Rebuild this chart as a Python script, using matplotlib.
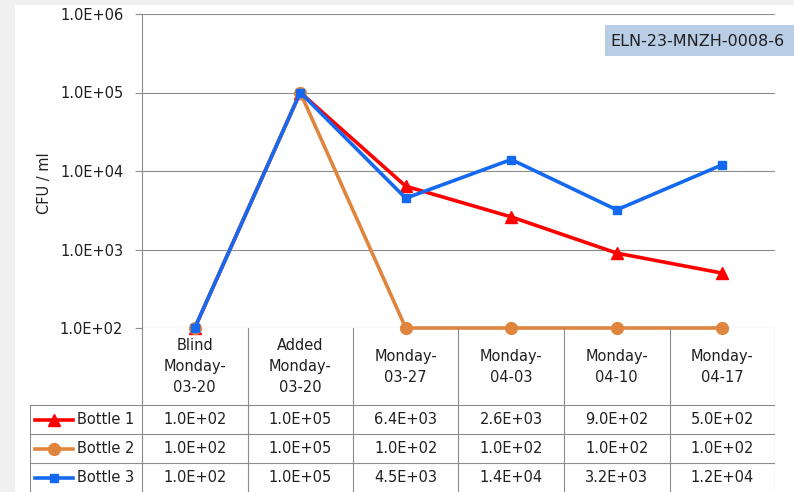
import numpy as np
import matplotlib.pyplot as plt
from matplotlib.patches import Rectangle
from matplotlib.lines import Line2D

# Data
categories = ["Blind\nMonday-\n03-20", "Added\nMonday-\n03-20", "Monday-\n03-27",
              "Monday-\n04-03", "Monday-\n04-10", "Monday-\n04-17"]
series_names = ["Bottle 1", "Bottle 2", "Bottle 3"]
bottle1 = [1.0e2, 1.0e5, 6.4e3, 2.6e3, 9.0e2, 5.0e2]
bottle2 = [1.0e2, 1.0e5, 1.0e2, 1.0e2, 1.0e2, 1.0e2]
bottle3 = [1.0e2, 1.0e5, 4.5e3, 1.4e4, 3.2e3, 1.2e4]
y_ticks = [1e2, 1e3, 1e4, 1e5, 1e6]
title_text = "ELN-23-MNZH-0008-6"

colors = ["#ff0000", "#e0853d", "#1469f0"]
markers = ["^", "o", "s"]
msizes = [8, 8.5, 6]

plt.rcParams['font.family'] = ['DejaVu Sans']
FS = 10.5
TXT = "#202020"
W, H = 794, 492
fig = plt.figure(figsize=(W / 100, H / 100), dpi=100, facecolor="#f0f0f0")
fig.patches.append(Rectangle((15 / W, 0), 1, (H - 5) / H, transform=fig.transFigure,
                             facecolor="white", edgecolor="none", zorder=-10))

grid_c = "#8c8c8c"
x0, x1, ytop, ybot = 142, 775, 14, 328
ax = fig.add_axes([x0 / W, (H - ybot) / H, (x1 - x0) / W, (ybot - ytop) / H])
ax.set_facecolor("none")
x = np.arange(len(categories))
ax.set_yscale("log")
ax.set_ylim(1e2, 1e6)
ax.set_xlim(-0.5, len(categories) - 0.5)
ax.set_yticks(y_ticks)
ax.set_yticklabels([f"{v:.1E}" for v in y_ticks], fontsize=FS, color=TXT)
ax.minorticks_off()
ax.set_xticks([])
ax.tick_params(axis="y", length=5, color=grid_c, width=0.8, pad=8.5)
for s in ["top", "right", "bottom"]:
    ax.spines[s].set_visible(False)
ax.spines["left"].set_color(grid_c)
ax.spines["left"].set_linewidth(0.8)
ax.grid(axis="y", color=grid_c, linewidth=0.8)
ax.set_axisbelow(True)
ax.set_ylabel("CFU / ml", fontsize=FS, color=TXT)
ax.yaxis.set_label_coords((52 - x0) / (x1 - x0), (ybot - 183) / (ybot - ytop))

all_series = [bottle1, bottle2, bottle3]
for vals, c, m, ms, name in zip(all_series, colors, markers, msizes, series_names):
    ax.plot(x, vals, color=c, marker=m, markersize=ms, linewidth=2.6,
            markeredgecolor=c, clip_on=False, label=name, zorder=3)

# Title box at the top right
fig.patches.append(Rectangle((605 / W, 1 - 56 / H), (W - 605) / W, 31 / H,
                             transform=fig.transFigure, facecolor="#b9cde5",
                             edgecolor="none", zorder=1))
fig.text(610 / W, 1 - 41 / H, title_text, fontsize=11.5, color=TXT,
         va="center", ha="left", zorder=2)

# Data table below the plot
px_per_cat = (x1 - x0) / len(categories)
tx0 = 30
tax = fig.add_axes([tx0 / W, 0, (x1 - tx0) / W, (H - ybot) / H])
tax.set_xlim(-0.5 - (x0 - tx0) / px_per_cat, len(categories) - 0.5)
tax.set_ylim(H, ybot)
tax.axis("off")
head_h, row_h = 77, 29
row_top = ybot + head_h
line_kw = dict(color=grid_c, linewidth=0.8)
for b in np.arange(len(categories) + 1) - 0.5:
    tax.plot([b, b], [ybot, H], **line_kw)
left = tax.get_xlim()[0]
tax.plot([left, left], [row_top, H], **line_kw)
for i in range(len(series_names)):
    yy = row_top + i * row_h
    tax.plot([left, len(categories) - 0.5], [yy, yy], **line_kw)
for i, lab in enumerate(categories):
    tax.text(i, ybot + head_h / 2, lab, ha="center", va="center", fontsize=FS,
             linespacing=1.5, color=TXT)
for r, (vals, c, m, ms, name) in enumerate(zip(all_series, colors, markers, msizes, series_names)):
    yc = row_top + r * row_h + row_h / 2
    for i, v in enumerate(vals):
        tax.text(i, yc, f"{v:.1E}", ha="center", va="center", fontsize=FS, color=TXT)
    lx = left + 5 / px_per_cat
    tax.add_line(Line2D([lx, lx + 38 / px_per_cat], [yc, yc], color=c, linewidth=2.6))
    tax.plot([lx + 19 / px_per_cat], [yc], marker=m, color=c, markersize=ms)
    tax.text(lx + 42 / px_per_cat, yc, name, ha="left", va="center", fontsize=FS, color=TXT)

fig.savefig("out.png", dpi=100, facecolor=fig.get_facecolor())
